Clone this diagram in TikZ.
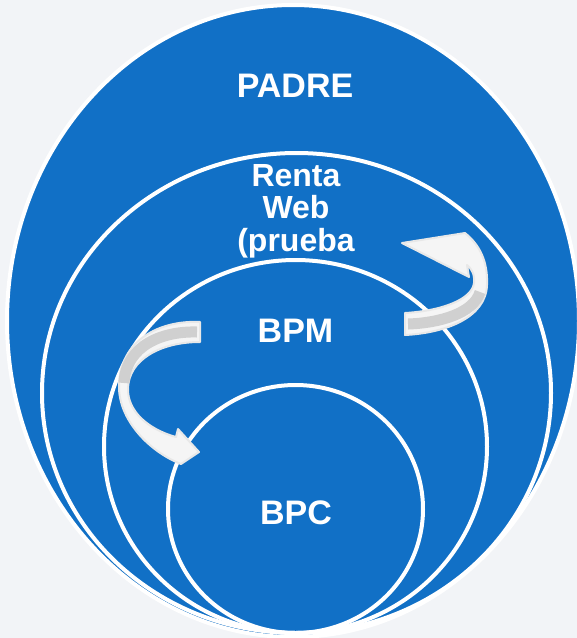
\documentclass[tikz,border=0pt]{standalone}
\usepackage{fontspec}
\setmainfont{Liberation Sans}
\usetikzlibrary{shapes.geometric}
\definecolor{fondo}{RGB}{242,244,247}
\definecolor{azul}{RGB}{17,112,198}
\definecolor{cara}{RGB}{245,245,245}
\definecolor{dorso}{RGB}{208,208,208}
\definecolor{borde}{RGB}{232,232,232}
\begin{document}
\begin{tikzpicture}[x=1pt,y=-1pt,
  nivel/.style={draw=white,line width=4pt,ellipse,inner sep=0pt},
  rotulo/.style={text=white,font=\bfseries\fontsize{34}{32}\selectfont,anchor=base,inner sep=0pt},
  flecha/.style={fill=cara,draw=borde,line width=2pt,line join=round},
  reverso/.style={draw=dorso,line width=11pt}]
\useasboundingbox[fill=fondo] (0,0) rectangle (577,638);
\node[nivel,fill=azul,minimum width=572pt,minimum height=632pt](padre) at (293,321){};
\node[nivel,minimum width=509pt,minimum height=480pt](renta) at (296.5,393){};
\node[nivel,minimum width=383pt,minimum height=373pt](bpm) at (295.5,446.5){};
\node[nivel,minimum width=255pt,minimum height=248pt](bpc) at (295.5,509){};
\node[rotulo](tpadre) at (295,97){PADRE};
\node[rotulo,font=\bfseries\fontsize{32}{32.5}\selectfont,align=center](trenta) at (296,251){Renta\\Web\\(prueba};
\node[rotulo](tbpm) at (295.5,342){BPM};
\node[rotulo](tbpc) at (296,524){BPC};
% flecha de BPM a BPC
\draw[flecha] (200,322) .. controls (160,320) and (120,340) .. (119,385) .. controls (118,420) and (150,452) .. (181,464) -- (199,452) -- (178,429) -- (176,437) .. controls (150,430) and (127,412) .. (128,388) .. controls (129,360) and (160,342) .. (200,342) -- cycle;
\draw[reverso] (197,332) .. controls (163,331) and (126,345) .. (124,383);
% flecha de BPM a Renta Web
\draw[flecha] (405,313) .. controls (440,311) and (472,300) .. (474,283) .. controls (475,274) and (471,268) .. (467,265) -- (469,277) -- (402,243) -- (465,233) .. controls (480,245) and (488,262) .. (487,285) .. controls (486,318) and (445,333) .. (405,335) -- cycle;
\draw[reverso] (408,324) .. controls (440,323) and (474,313) .. (480,292);
\end{tikzpicture}
\end{document}
